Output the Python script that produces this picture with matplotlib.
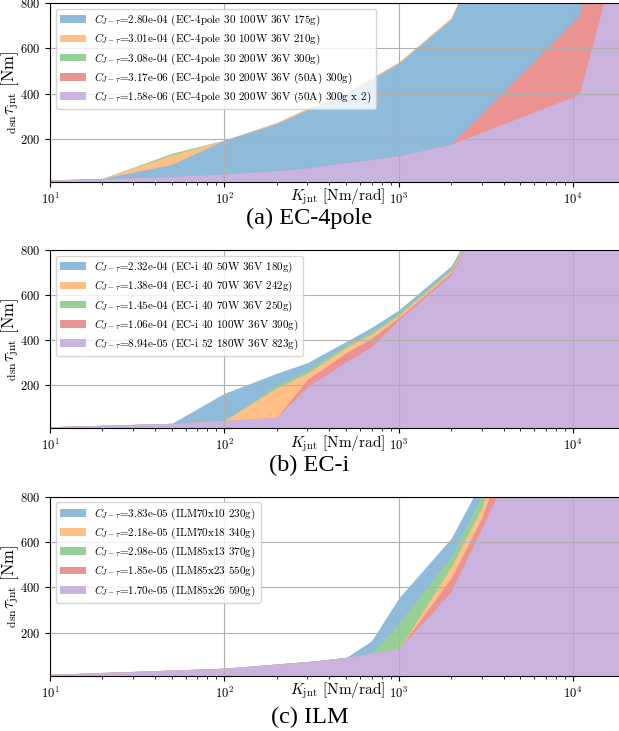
import matplotlib

matplotlib.use("Agg")

import matplotlib.colors as mcolors
import matplotlib.pyplot as plt
import numpy as np

plt.rcParams["font.family"] = "serif"
plt.rcParams["font.serif"] = ["cmr10"]
plt.rcParams["mathtext.fontset"] = "cm"
plt.rcParams["axes.formatter.use_mathtext"] = True

# (a) EC-4pole
k_a = [10, 20, 50, 100, 200, 300, 500, 1000, 2000, 5000, 10900, 15000, 20000]
tau_a_175g = [19, 26, 88, 195, 268, 330, 400, 534, 729, 1400, 2000, 2500, 3000]
tau_a_210g = [19, 26, 129, 195, 274, 336, 406, 540, 735, 1410, 2000, 2500, 3000]
tau_a_300g = [19, 26, 137, 195, 268, 330, 400, 534, 729, 1400, 2000, 2500, 3000]
tau_a_300g_50a = [19, 24, 34, 45, 60, 72, 95, 126, 176, 485, 747, 1370, 2000]
tau_a_300g_x2 = [19, 24, 34, 45, 60, 72, 95, 126, 176, 296, 397, 800, 1163]
labels_a = [
    "2.80e-04 (EC-4pole 30 100W 36V 175g)",
    "3.01e-04 (EC-4pole 30 100W 36V 210g)",
    "3.08e-04 (EC-4pole 30 200W 36V 300g)",
    "3.17e-06 (EC-4pole 30 200W 36V (50A) 300g)",
    "1.58e-06 (EC-4pole 30 200W 36V (50A) 300g x 2)",
]

# (b) EC-i
k_b = [10, 50, 100, 200, 300, 500, 700, 1000, 2000, 5000, 20000]
tau_b_180g = [17, 32, 165, 254, 301, 395, 457, 534, 729, 1280, 2500]
tau_b_242g = [17, 32, 44, 190, 254, 368, 428, 512, 708, 1311, 2500]
tau_b_250g = [17, 32, 44, 202, 268, 380, 440, 520, 715, 1308, 2500]
tau_b_390g = [17, 32, 44, 59, 227, 345, 409, 500, 700, 1300, 2500]
tau_b_823g = [17, 32, 44, 59, 194, 305, 372, 490, 689, 1320, 2500]
labels_b = [
    "2.32e-04 (EC-i 40 50W 36V 180g)",
    "1.38e-04 (EC-i 40 70W 36V 242g)",
    "1.45e-04 (EC-i 40 70W 36V 250g)",
    "1.06e-04 (EC-i 40 100W 36V 390g)",
    "8.94e-05 (EC-i 52 180W 36V 823g)",
]

# (c) ILM
k_c = [10, 100, 340, 500, 700, 1000, 2000, 3000, 20000]
tau_c_230g = [16, 43, 76, 91, 164, 352, 616, 868, 3000]
tau_c_340g = [16, 43, 76, 91, 109, 127, 491, 751, 2800]
tau_c_370g = [16, 43, 76, 91, 109, 241, 535, 805, 3000]
tau_c_550g = [16, 43, 76, 91, 109, 127, 440, 706, 2500]
tau_c_590g = [16, 43, 76, 91, 109, 127, 381, 662, 2000]
labels_c = [
    "3.83e-05 (ILM70x10 230g)",
    "2.18e-05 (ILM70x18 340g)",
    "2.98e-05 (ILM85x13 370g)",
    "1.85e-05 (ILM85x23 550g)",
    "1.70e-05 (ILM85x26 590g)",
]

captions = ["(a) EC-4pole", "(b) EC-i", "(c) ILM"]

panels = [
    (k_a, [tau_a_175g, tau_a_210g, tau_a_300g, tau_a_300g_50a, tau_a_300g_x2], labels_a, [2, 1, 0, 3, 4]),
    (k_b, [tau_b_180g, tau_b_242g, tau_b_250g, tau_b_390g, tau_b_823g], labels_b, [0, 2, 1, 3, 4]),
    (k_c, [tau_c_230g, tau_c_340g, tau_c_370g, tau_c_550g, tau_c_590g], labels_c, [0, 2, 1, 3, 4]),
]

base_colors = ["tab:blue", "tab:orange", "tab:green", "tab:red", "tab:purple"]


def pastel(color, alpha=0.5):
    rgb = np.array(mcolors.to_rgb(color))
    return tuple(rgb * alpha + (1 - alpha))


W, H = 619, 731
fig = plt.figure(figsize=(W / 100, H / 100), dpi=100)

ax_px = [(3, 182), (250, 428.3), (496.7, 675.7)]
caption_y = [218, 465, 717]
left_px = 50
decade_px = 174.3
xmin, xmax = 10, 2e4
width_px = np.log10(xmax / xmin) * decade_px

for (k, series, labels, order), (top, bottom), cap, cy in zip(panels, ax_px, captions, caption_y):
    h_px = bottom - top
    ax = fig.add_axes([left_px / W, 1 - bottom / H, width_px / W, h_px / H])
    handles = {}
    for i in order:
        handles[i] = ax.fill_between(k, 0, series[i], color=pastel(base_colors[i]), lw=0)
    ax.set_xscale("log")
    ax.set_xlim(xmin, xmax)
    ax.set_ylim(10, 800)
    ax.set_yticks([200, 400, 600, 800])
    ax.tick_params(labelsize=9)
    ax.grid(True, which="major", color="#b0b0b0", lw=0.8)
    ax.set_xlabel(r"$K_{\rm jnt}$ [Nm/rad]", fontsize=11)
    ax.xaxis.set_label_coords(0.5, -5 / h_px)
    ax.set_ylabel(r"${}_{\rm dsn}\tau_{\rm jnt}$ [Nm]", fontsize=12)
    ax.yaxis.set_label_coords(-29 / width_px, 0.5)
    ax.legend(
        [handles[i] for i in range(5)],
        [r"$C_{J-\tau}$=" + lab for lab in labels],
        loc="upper left",
        fontsize=8,
        handlelength=2.3,
        labelspacing=0.35,
    )
    fig.text(0.5, 1 - cy / H, cap, ha="center", va="center", fontsize=17.5, family="Liberation Serif")

fig.savefig("out.png", dpi=100, facecolor="white")
